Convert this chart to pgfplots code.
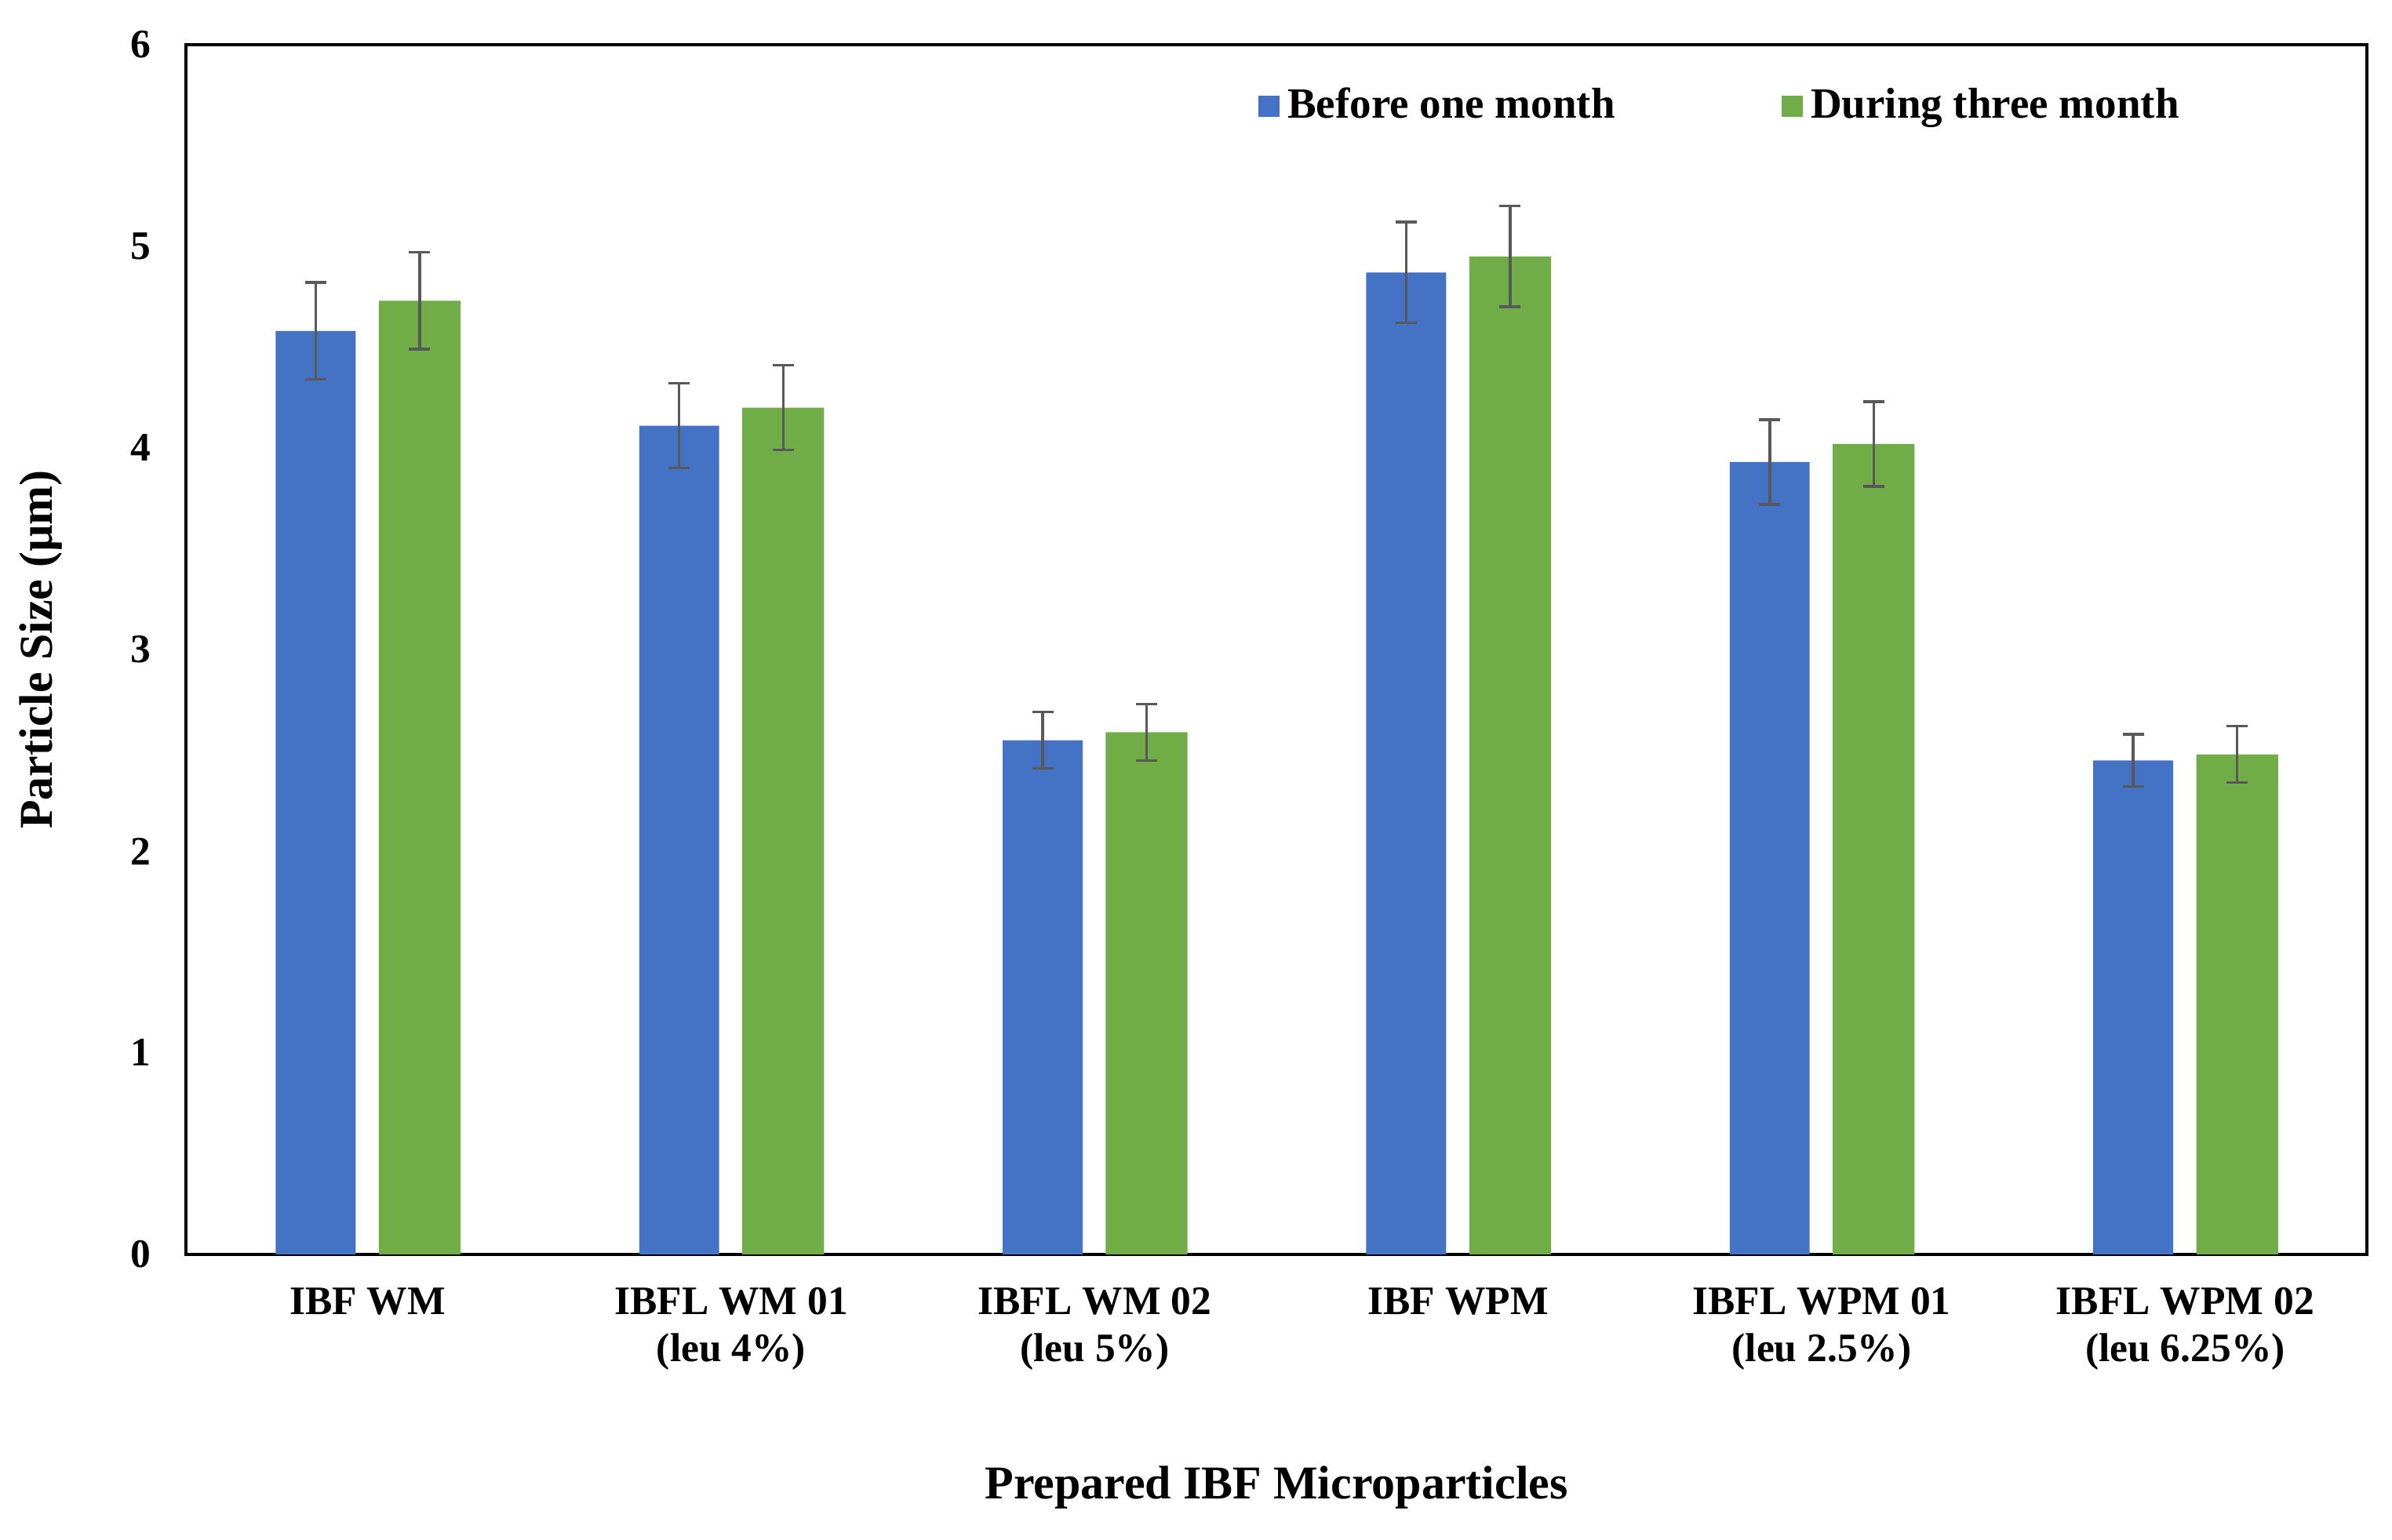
\documentclass[border=0pt]{standalone}
\usepackage{pgfplots}
\pgfplotsset{compat=1.18}
\usepackage{fontspec}
\setmainfont{Liberation Serif}
\definecolor{cblue}{HTML}{4472C4}
\definecolor{cgreen}{HTML}{70AD47}
\definecolor{cerr}{HTML}{595959}
\begin{document}
\begin{tikzpicture}
\begin{axis}[
  scale only axis,
  width=556pt, height=308.4pt,
  ybar=0pt,
  xmin=-0.5, xmax=5.5,
  ymin=0, ymax=6,
  ytick={0,1,2,3,4,5,6},
  yticklabels={0,1,2,3,4,5,6},
  xtick={0,1,2,3,4,5},
  xticklabels={IBF WM, IBFL WM 01\\(leu 4\%), IBFL WM 02\\(leu 5\%), IBF WPM, IBFL WPM 01\\(leu 2.5\%), IBFL WPM 02\\(leu 6.25\%)},
  major tick length=0pt,
  axis line style={line width=0.8pt},
  tick label style={font=\bfseries\fontsize{10.3}{12}\selectfont},
  xticklabel style={align=center, yshift=-5pt},
  yticklabel style={xshift=-5.5pt},
  xlabel={Prepared IBF Microparticles},
  ylabel={Particle Size (µm)},
  label style={font=\bfseries\fontsize{12}{14}\selectfont},
  xlabel style={at={(axis description cs:0.5,-0.1926)}, anchor=center},
  ylabel style={at={(axis description cs:-0.0665,0.5)}, anchor=center},
  legend columns=2,
  legend style={at={(axis description cs:0.4914,0.9494)}, anchor=west, draw=none, fill=none, inner sep=0pt,
    font=\bfseries\fontsize{11}{13}\selectfont,
    /tikz/every even column/.append style={column sep=40.5pt}},
  legend image code/.code={\fill[#1,draw=none] (0pt,-2.7pt) rectangle (5.4pt,2.7pt);},
  error bars/error bar style={line width=0.7pt, color=cerr},
  error bars/error mark options={rotate=90, mark size=2.7pt, line width=0.7pt, color=cerr},
]
\addplot[bar width=0.22, bar shift=-0.143, fill=cblue, draw=none,
  error bars/.cd, y dir=both, y explicit]
  coordinates {
  (0,4.58) +- (0,0.24)
  (1,4.11) +- (0,0.21)
  (2,2.55) +- (0,0.14)
  (3,4.87) +- (0,0.25)
  (4,3.93) +- (0,0.21)
  (5,2.45) +- (0,0.13)
  };
\addlegendentry{Before one month}
\addplot[bar width=0.225, bar shift=0.143, fill=cgreen, draw=none,
  error bars/.cd, y dir=both, y explicit]
  coordinates {
  (0,4.73) +- (0,0.24)
  (1,4.20) +- (0,0.21)
  (2,2.59) +- (0,0.14)
  (3,4.95) +- (0,0.25)
  (4,4.02) +- (0,0.21)
  (5,2.48) +- (0,0.14)
  };
\addlegendentry{During three month}
\end{axis}
\path (current axis.south west) ++(-47.4pt,-72.8pt) coordinate (bbl);
\path (current axis.north east) ++(6.4pt,11.4pt) coordinate (btr);
\path[use as bounding box] (bbl) rectangle (btr);
\end{tikzpicture}
\end{document}
